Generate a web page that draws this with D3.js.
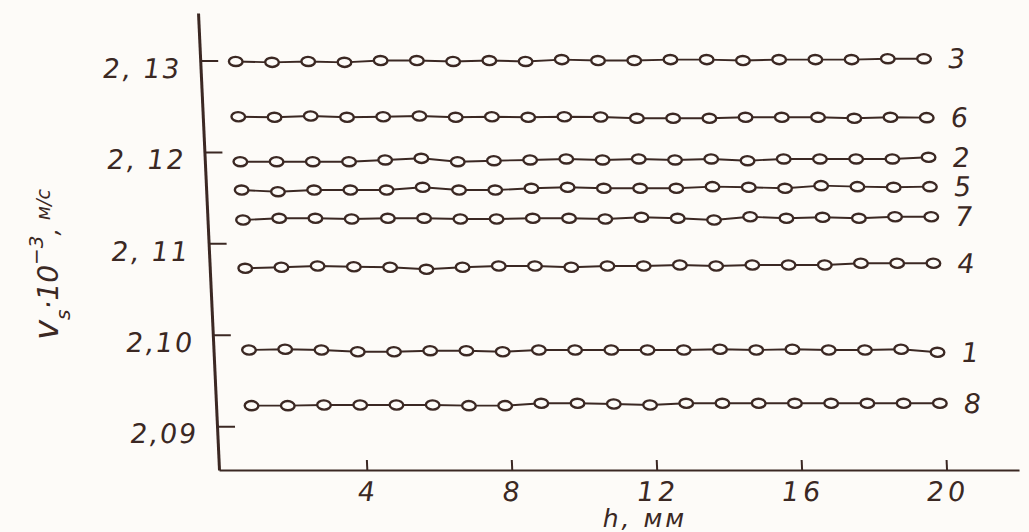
<!DOCTYPE html>
<html>
<head>
<meta charset="utf-8">
<script src="https://cdn.jsdelivr.net/npm/d3@7"></script>
<style>
  html, body { margin: 0; padding: 0; background: #fdfbf8; }
  svg { display: block; }
</style>
</head>
<body>
<svg id="chart" width="1029" height="532"></svg>
<script>
// ---- data ----
const hValues = [0.9, 1.9, 2.9, 3.9, 4.9, 5.9, 6.9, 7.9, 8.9, 9.9, 10.9, 11.9, 12.9, 13.9, 14.9, 15.9, 16.9, 17.9, 18.9, 19.9];

const seriesNames = ["3", "6", "2", "5", "7", "4", "1", "8"];

const series3 = [2.1299, 2.1298, 2.1299, 2.1298, 2.1300, 2.1300, 2.1299, 2.1300, 2.1299, 2.1301, 2.1300, 2.1300, 2.1301, 2.1301, 2.1300, 2.1301, 2.1301, 2.1301, 2.1302, 2.1302];
const series6 = [2.12385, 2.12379, 2.12393, 2.12379, 2.12385, 2.12393, 2.12379, 2.12385, 2.12379, 2.12385, 2.12382, 2.12368, 2.12368, 2.12368, 2.12379, 2.12379, 2.12379, 2.12368, 2.12379, 2.12375];
const series2 = [2.11893, 2.11893, 2.11893, 2.11893, 2.11912, 2.11930, 2.11893, 2.11904, 2.11912, 2.11923, 2.11912, 2.11923, 2.11912, 2.11923, 2.11904, 2.11923, 2.11923, 2.11923, 2.11923, 2.11941];
const series5 = [2.11583, 2.11565, 2.11583, 2.11583, 2.11583, 2.11613, 2.11583, 2.11583, 2.11602, 2.11613, 2.11602, 2.11602, 2.11602, 2.11620, 2.11613, 2.11602, 2.11631, 2.11620, 2.11613, 2.11620];
const series7 = [2.11255, 2.11274, 2.11274, 2.11266, 2.11274, 2.11274, 2.11266, 2.11266, 2.11274, 2.11274, 2.11266, 2.11285, 2.11274, 2.11255, 2.11291, 2.11274, 2.11285, 2.11274, 2.11291, 2.11291];
const series4 = [2.10727, 2.10738, 2.10752, 2.10744, 2.10738, 2.10716, 2.10738, 2.10752, 2.10752, 2.10738, 2.10752, 2.10752, 2.10763, 2.10752, 2.10763, 2.10763, 2.10763, 2.10782, 2.10782, 2.10782];
const series1 = [2.09833, 2.09841, 2.09833, 2.09814, 2.09814, 2.09825, 2.09825, 2.09814, 2.09833, 2.09833, 2.09833, 2.09833, 2.09833, 2.09841, 2.09833, 2.09841, 2.09833, 2.09833, 2.09841, 2.09808];
const series8 = [2.09224, 2.09224, 2.09231, 2.09231, 2.09231, 2.09231, 2.09224, 2.09224, 2.09250, 2.09250, 2.09242, 2.09231, 2.09250, 2.09250, 2.09250, 2.09250, 2.09250, 2.09250, 2.09250, 2.09250];

const yTickValues = [2.09, 2.10, 2.11, 2.12, 2.13];
const yTickLabels = ["2,09", "2,10", "2, 11", "2, 12", "2, 13"];
const xTickValues = [4, 8, 12, 16, 20];
const xTickLabels = ["4", "8", "12", "16", "20"];

const seriesValues = [series3, series6, series2, series5, series7, series4, series1, series8];

// ---- drawing ----
const ink = "#3b2823";
const paper = "#fdfbf8";
const font = "'DejaVu Sans', sans-serif";

const svg = d3.select("#chart");

const x = d3.scaleLinear().domain([-0.08, 22]).range([219, 1019]);
const y = d3.scaleLinear().domain([2.0852, 2.1352]).range([470, 13]);

// the scanned figure leans slightly; reproduce with a skew about the origin
const g = svg.append("g")
  .attr("transform", "translate(219,470) skewX(2.63) translate(-219,-470)");

// y axis
const yAxis = d3.axisLeft(y)
  .tickValues(yTickValues)
  .tickFormat((d, i) => yTickLabels[i])
  .tickSizeInner(-18)
  .tickSizeOuter(0)
  .tickPadding(19);

const gy = g.append("g").attr("transform", `translate(${x(-0.08)},0)`).call(yAxis);
gy.select(".domain").attr("stroke", ink).attr("stroke-width", 3);
gy.selectAll(".tick line").attr("stroke", ink).attr("stroke-width", 2);
gy.selectAll(".tick text")
  .attr("fill", ink)
  .attr("font-family", font)
  .attr("font-style", "oblique")
  .attr("font-size", 27)
  .attr("letter-spacing", 2)
  .attr("dy", "0.62em");

// x axis
const xAxis = d3.axisBottom(x)
  .tickValues(xTickValues)
  .tickFormat((d, i) => xTickLabels[i])
  .tickSizeInner(-10)
  .tickSizeOuter(0)
  .tickPadding(12);

const gx = g.append("g").attr("transform", `translate(0,${y(2.0852)})`).call(xAxis);
gx.select(".domain").attr("stroke", ink).attr("stroke-width", 2.2);
gx.selectAll(".tick line").attr("stroke", ink).attr("stroke-width", 2);
gx.selectAll(".tick text")
  .attr("fill", ink)
  .attr("font-family", font)
  .attr("font-style", "oblique")
  .attr("font-size", 27)
  .attr("letter-spacing", 4);

// series
const line = d3.line().x((d, i) => x(hValues[i])).y(d => y(d));

seriesValues.forEach((vals, k) => {
  const sg = g.append("g");
  sg.append("path")
    .datum(vals)
    .attr("d", line)
    .attr("fill", "none")
    .attr("stroke", ink)
    .attr("stroke-width", 1.9);
  sg.selectAll("ellipse")
    .data(vals)
    .join("ellipse")
    .attr("cx", (d, i) => x(hValues[i]))
    .attr("cy", d => y(d))
    .attr("rx", 6.8)
    .attr("ry", 4.6)
    .attr("fill", paper)
    .attr("stroke", ink)
    .attr("stroke-width", 2.4);
  const last = vals.length - 1;
  sg.append("text")
    .attr("x", x(hValues[last]) + 24)
    .attr("y", y(vals[last]))
    .attr("dy", "0.36em")
    .attr("fill", ink)
    .attr("font-family", font)
    .attr("font-style", "oblique")
    .attr("font-size", 27)
    .text(seriesNames[k]);
});

// x axis title
svg.append("text")
  .attr("x", 645)
  .attr("y", 527)
  .attr("text-anchor", "middle")
  .attr("fill", ink)
  .attr("font-family", font)
  .attr("font-style", "oblique")
  .attr("font-size", 25)
  .attr("letter-spacing", 3)
  .text("h, мм");

// y axis title (rotated)
const yt = svg.append("text")
  .attr("transform", "translate(58,340) rotate(-90)")
  .attr("fill", ink)
  .attr("font-family", font)
  .attr("font-style", "oblique")
  .attr("font-size", 28);
yt.append("tspan").attr("font-size", 34).text("v");
yt.append("tspan").attr("font-size", 20).attr("dy", 12).text("s");
yt.append("tspan").attr("dy", -12).text("·10");
yt.append("tspan").attr("font-size", 20).attr("dy", -15).text("−3");
yt.append("tspan").attr("font-size", 24).attr("dy", 15).text(", ");
yt.append("tspan").attr("font-size", 19).attr("dy", -8).text("м/с");
</script>
</body>
</html>
